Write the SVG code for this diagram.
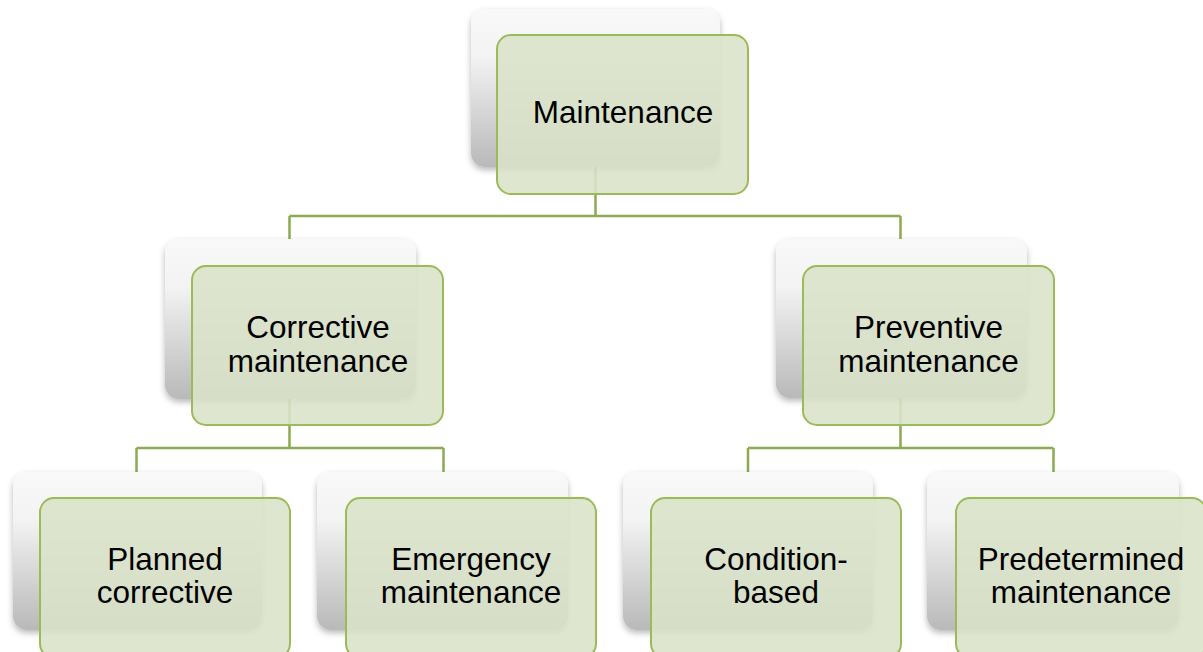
<svg xmlns="http://www.w3.org/2000/svg" width="1203" height="652" viewBox="0 0 1203 652">
  <defs>
    <linearGradient id="backFill" x1="0" y1="0" x2="0" y2="1">
      <stop offset="0" stop-color="#f9f9f9"/>
      <stop offset="0.3" stop-color="#f3f3f3"/>
      <stop offset="1" stop-color="#b9b9b9"/>
    </linearGradient>
    <filter id="shadow" x="-10%" y="-10%" width="120%" height="125%">
      <feDropShadow dx="0" dy="3" stdDeviation="3" flood-color="#000" flood-opacity="0.28"/>
    </filter>
  </defs>
  <style>
    .back { fill: url(#backFill); filter: url(#shadow); }
    .front { fill: #dbe3c9; fill-opacity: 0.88; stroke: #9bbb59; stroke-width: 2; }
    .label { font-family: "Liberation Sans", Arial, sans-serif; font-size: 31.5px; fill: #000; text-anchor: middle; }
    .link { fill: none; stroke: #8caa50; stroke-width: 2.5; }
  </style>
  <rect width="1203" height="652" fill="#ffffff"/>

  <g id="connectors">
    <path class="link" d="M595.5 160 V216 M289.5 216 H900.5 M289.5 216 V239 M900.5 216 V239"/>
    <path class="link" d="M289.5 390 V448 M136.5 448 H443.5 M136.5 448 V472 M443.5 448 V472"/>
    <path class="link" d="M900.5 390 V448 M748 448 H1053.5 M748 448 V472 M1053.5 448 V472"/>
  </g>

  <g id="maintenance">
    <rect class="back" x="471" y="9" width="249" height="158" rx="14"/>
    <rect class="front" x="497" y="35" width="251" height="159" rx="14"/>
    <text class="label" x="623" y="123">Maintenance</text>
  </g>

  <g id="corrective">
    <rect class="back" x="165" y="239" width="251" height="160" rx="14"/>
    <rect class="front" x="192" y="266" width="251" height="159" rx="14"/>
    <text class="label" x="318" y="338">Corrective</text>
    <text class="label" x="318" y="372">maintenance</text>
  </g>

  <g id="preventive">
    <rect class="back" x="776" y="239" width="251" height="159" rx="14"/>
    <rect class="front" x="803" y="266" width="251" height="159" rx="14"/>
    <text class="label" x="928.5" y="338">Preventive</text>
    <text class="label" x="928.5" y="372">maintenance</text>
  </g>

  <g id="planned-corrective">
    <rect class="back" x="13" y="472" width="249" height="158" rx="14"/>
    <rect class="front" x="40" y="498" width="250" height="160" rx="14"/>
    <text class="label" x="165" y="570">Planned</text>
    <text class="label" x="165" y="603">corrective</text>
  </g>

  <g id="emergency-maintenance">
    <rect class="back" x="317" y="472" width="251" height="158" rx="14"/>
    <rect class="front" x="346" y="498" width="250" height="160" rx="14"/>
    <text class="label" x="471" y="570">Emergency</text>
    <text class="label" x="471" y="603">maintenance</text>
  </g>

  <g id="condition-based">
    <rect class="back" x="623" y="472" width="250" height="158" rx="14"/>
    <rect class="front" x="651" y="498" width="250" height="160" rx="14"/>
    <text class="label" x="776" y="570">Condition-</text>
    <text class="label" x="776" y="603">based</text>
  </g>

  <g id="predetermined-maintenance">
    <rect class="back" x="927" y="472" width="252" height="158" rx="14"/>
    <rect class="front" x="956" y="498" width="250" height="160" rx="14"/>
    <text class="label" x="1081" y="570">Predetermined</text>
    <text class="label" x="1081" y="603">maintenance</text>
  </g>
</svg>
